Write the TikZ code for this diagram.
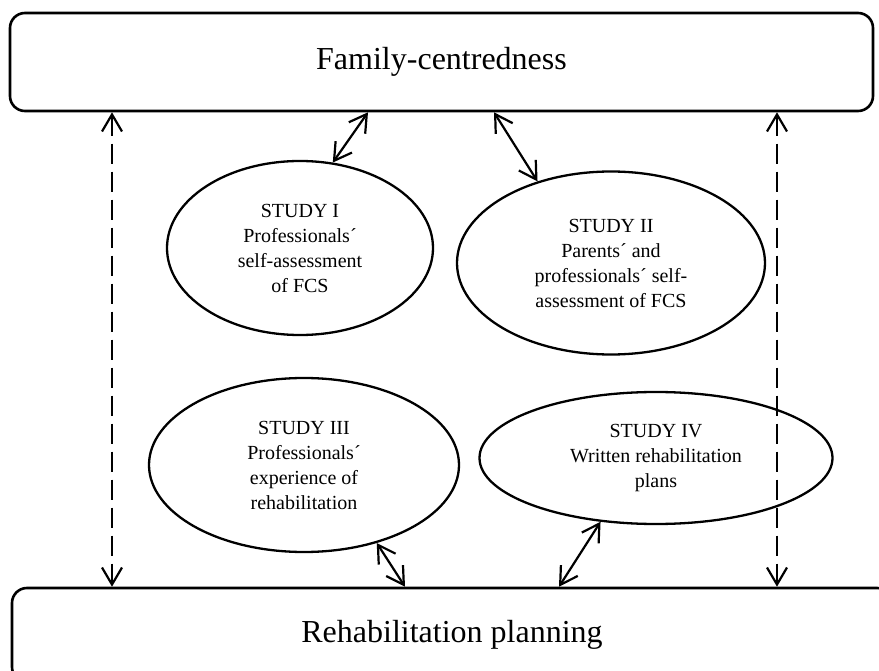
\documentclass[tikz,border=0pt]{standalone}
\usepackage{fontspec}
\setmainfont{Liberation Serif}
\usetikzlibrary{arrows.meta,shapes.geometric}

\tikzset{
	box/.style={draw, line width=2.6pt, rounded corners=15pt, inner sep=0pt,
		font=\fontsize{32}{38}\selectfont},
	study/.style={draw, ellipse, line width=2.3pt, inner sep=0pt, align=center,
		font=\fontsize{20}{25}\selectfont},
	dbl/.style={line width=2.2pt, {Straight Barb[length=17pt,width=20pt]}-{Straight Barb[length=17pt,width=20pt]}},
	dbldash/.style={dbl, dash pattern=on 20pt off 8pt}
}

\begin{document}
\begin{tikzpicture}[x=1pt,y=-1pt]
	\useasboundingbox (0,0) rectangle (879,671);
	\clip (0,0) rectangle (879,671);

	\node[box, minimum width=863pt, minimum height=98pt] (fc) at (441.5,62) {Family-centredness};
	\node[box, minimum width=880pt, minimum height=94pt] (rp) at (452,635) {Rehabilitation planning};

	\node[study, minimum width=266pt, minimum height=174pt] (s1) at (300,248) {STUDY I\\Professionals´\\self-assessment\\of FCS};
	\node[study, minimum width=308pt, minimum height=183pt] (s2) at (611,263) {STUDY II\\Parents´ and\\professionals´ self-\\assessment of FCS};
	\node[study, minimum width=310pt, minimum height=174pt] (s3) at (304,465) {STUDY III\\Professionals´\\experience of\\rehabilitation};
	\node[study, minimum width=353pt, minimum height=132pt] (s4) at (656,458) {STUDY IV\\Written rehabilitation\\plans};

	% links to the two frames
	\draw[dbl] (s1.69) -- (368,0 |- fc.south);
	\draw[dbl] (s2.132) -- (494,0 |- fc.south);
	\draw[dbl] (s3.-47) -- (405,0 |- rp.north);
	\draw[dbl] (s4.229) -- (559,0 |- rp.north);

	\draw[dbldash] (112,0 |- fc.south) -- (112,0 |- rp.north);
	\draw[dbldash] (777,0 |- fc.south) -- (777,0 |- rp.north);
\end{tikzpicture}
\end{document}
